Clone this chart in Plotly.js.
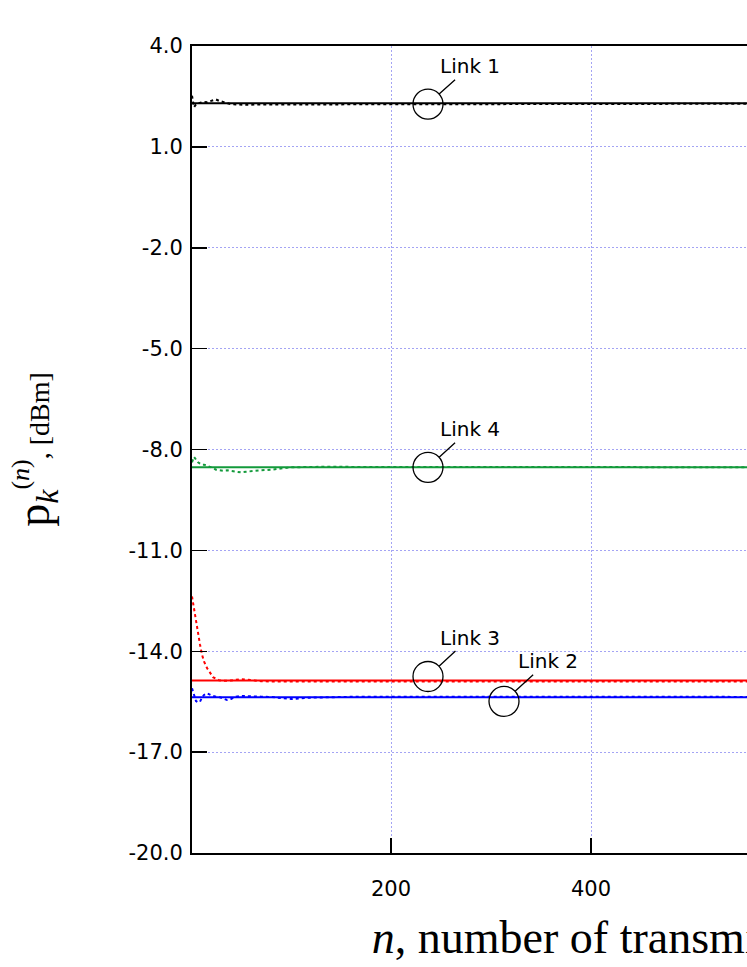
<!DOCTYPE html>
<html>
<head>
<meta charset="utf-8">
<script src="https://cdn.plot.ly/plotly-3.0.1.min.js"></script>
<style>
  html, body { margin: 0; padding: 0; overflow: hidden; background: #fff; }
</style>
</head>
<body>
<div id="chart"></div>
<script>
// transmission index where the dotted (transient) curves are sampled
var nIter = [1, 3, 5, 7, 9, 11, 13, 16, 19, 22, 25, 28, 32, 36, 40, 45, 50, 55, 60, 65,
  70, 80, 90, 100, 120, 140, 170, 200, 250, 300, 400, 500, 600, 700, 800, 850];

// transient power per link, dBm
var link1Iter = [2.52, 2.18, 2.26, 2.30, 2.31, 2.33, 2.34, 2.33, 2.36, 2.40, 2.41, 2.37, 2.33, 2.30, 2.27,
  2.26, 2.25, 2.25, 2.25, 2.26, 2.26, 2.26, 2.26, 2.26, 2.26, 2.26, 2.26, 2.27, 2.27, 2.27, 2.27, 2.28, 2.29, 2.30, 2.30, 2.30];
var link2Iter = [-15.10, -15.28, -15.48, -15.52, -15.50, -15.38, -15.30, -15.25, -15.30, -15.33, -15.35, -15.36,
  -15.40, -15.45, -15.42, -15.35, -15.33, -15.34, -15.35, -15.36, -15.35, -15.36, -15.38, -15.42, -15.38,
  -15.36, -15.35, -15.35, -15.34, -15.35, -15.35, -15.36, -15.37, -15.37, -15.37, -15.37];
var link3Iter = [-12.37, -12.75, -13.10, -13.45, -13.80, -14.10, -14.30, -14.50, -14.65, -14.77, -14.82, -14.86,
  -14.88, -14.88, -14.87, -14.85, -14.83, -14.84, -14.86, -14.88, -14.89, -14.90, -14.90, -14.90, -14.91,
  -14.91, -14.91, -14.92, -14.92, -14.92, -14.92, -14.91, -14.90, -14.89, -14.88, -14.88];
var link4Iter = [-8.38, -8.22, -8.30, -8.38, -8.42, -8.45, -8.45, -8.48, -8.52, -8.55, -8.60, -8.62, -8.63,
  -8.62, -8.64, -8.67, -8.68, -8.66, -8.64, -8.63, -8.62, -8.60, -8.57, -8.53, -8.52, -8.51, -8.52, -8.52,
  -8.52, -8.53, -8.53, -8.53, -8.53, -8.53, -8.53, -8.53];

// steady-state (optimal) power per link, dBm
var linkNames = ["Link 1", "Link 2", "Link 3", "Link 4"];
var linkOptimum = [2.30, -15.37, -14.87, -8.53];
var nSpan = [1, 850];
var linkColors = ["#000000", "#0000ff", "#ff0000", "#139a3b"];
var iterSeries = [link1Iter, link2Iter, link3Iter, link4Iter];

// y tick labels (written with a plain hyphen, as in the original)
var yTickVals = [4, 1, -2, -5, -8, -11, -14, -17, -20];
var yTickText = ["4.0", "1.0", "-2.0", "-5.0", "-8.0", "-11.0", "-14.0", "-17.0", "-20.0"];

// where each "Link k" callout circle sits (n) and its pixel tweaks
var labelN = [237, 313, 237, 237];
var circleUp = [-1, -4, 4, 0];
var textOffset = [[42, -38], [44, -40], [42, -39], [42, -38]];

var data = [];
for (var i = 0; i < 4; i++) {
  data.push({
    x: nSpan,
    y: [linkOptimum[i], linkOptimum[i]],
    type: "scatter",
    mode: "lines",
    line: { color: linkColors[i], width: 2 },
    hoverinfo: "skip"
  });
  data.push({
    x: nIter,
    y: iterSeries[i],
    type: "scatter",
    mode: "lines",
    line: { color: linkColors[i], width: 2, dash: "dot" },
    hoverinfo: "skip"
  });
}

var shapes = [];
var annotations = [];
for (var i = 0; i < 4; i++) {
  shapes.push({
    type: "circle",
    xref: "x", yref: "y",
    xsizemode: "pixel", ysizemode: "pixel",
    xanchor: labelN[i], yanchor: linkOptimum[i],
    x0: -15, x1: 15,
    y0: -15 + circleUp[i], y1: 15 + circleUp[i],
    line: { color: "#000", width: 1.3 }
  });
  annotations.push({
    x: labelN[i], y: linkOptimum[i],
    xref: "x", yref: "y",
    yshift: circleUp[i],
    text: linkNames[i],
    showarrow: true,
    arrowhead: 0,
    arrowwidth: 1.3,
    arrowcolor: "#000",
    standoff: 15,
    ax: textOffset[i][0], ay: textOffset[i][1],
    font: { family: "DejaVu Sans", size: 20, color: "#000" }
  });
}

var layout = {
  width: 1088,
  height: 967,
  margin: { l: 192, r: 38, t: 46, b: 114 },
  paper_bgcolor: "#fff",
  plot_bgcolor: "#fff",
  showlegend: false,
  font: { family: "DejaVu Sans", size: 21, color: "#000" },
  xaxis: {
    range: [1, 859],
    tick0: 0, dtick: 200,
    ticks: "inside", ticklen: 15, tickwidth: 1.5, tickcolor: "#000",
    ticklabelstandoff: 16,
    showline: true, linecolor: "#000", linewidth: 2, mirror: true,
    showgrid: true, gridcolor: "#a4a4f4", gridwidth: 1, griddash: "2px,2px",
    zeroline: false,
    title: {
      text: "<i>n</i>, number of transmissions",
      font: { family: "Liberation Serif", size: 46, color: "#000" },
      standoff: 21
    }
  },
  yaxis: {
    range: [-20, 4],
    tickvals: yTickVals,
    ticktext: yTickText,
    ticks: "inside", ticklen: 15, tickwidth: 1.5, tickcolor: "#000",
    ticklabelstandoff: 3,
    showline: true, linecolor: "#000", linewidth: 2, mirror: true,
    showgrid: true, gridcolor: "#a4a4f4", gridwidth: 1, griddash: "2px,2px",
    zeroline: false,
    title: {
      text: '<span style="font-size:46px">p<sub><i>k</i></sub><sup><span style="font-size:26px">(<i>n</i>)</span></sup></span>, [dBm]',
      font: { family: "Liberation Serif", size: 28, color: "#000" },
      standoff: 71
    }
  },
  shapes: shapes,
  annotations: annotations
};

Plotly.newPlot("chart", data, layout, { displayModeBar: false, staticPlot: true });
</script>
</body>
</html>
